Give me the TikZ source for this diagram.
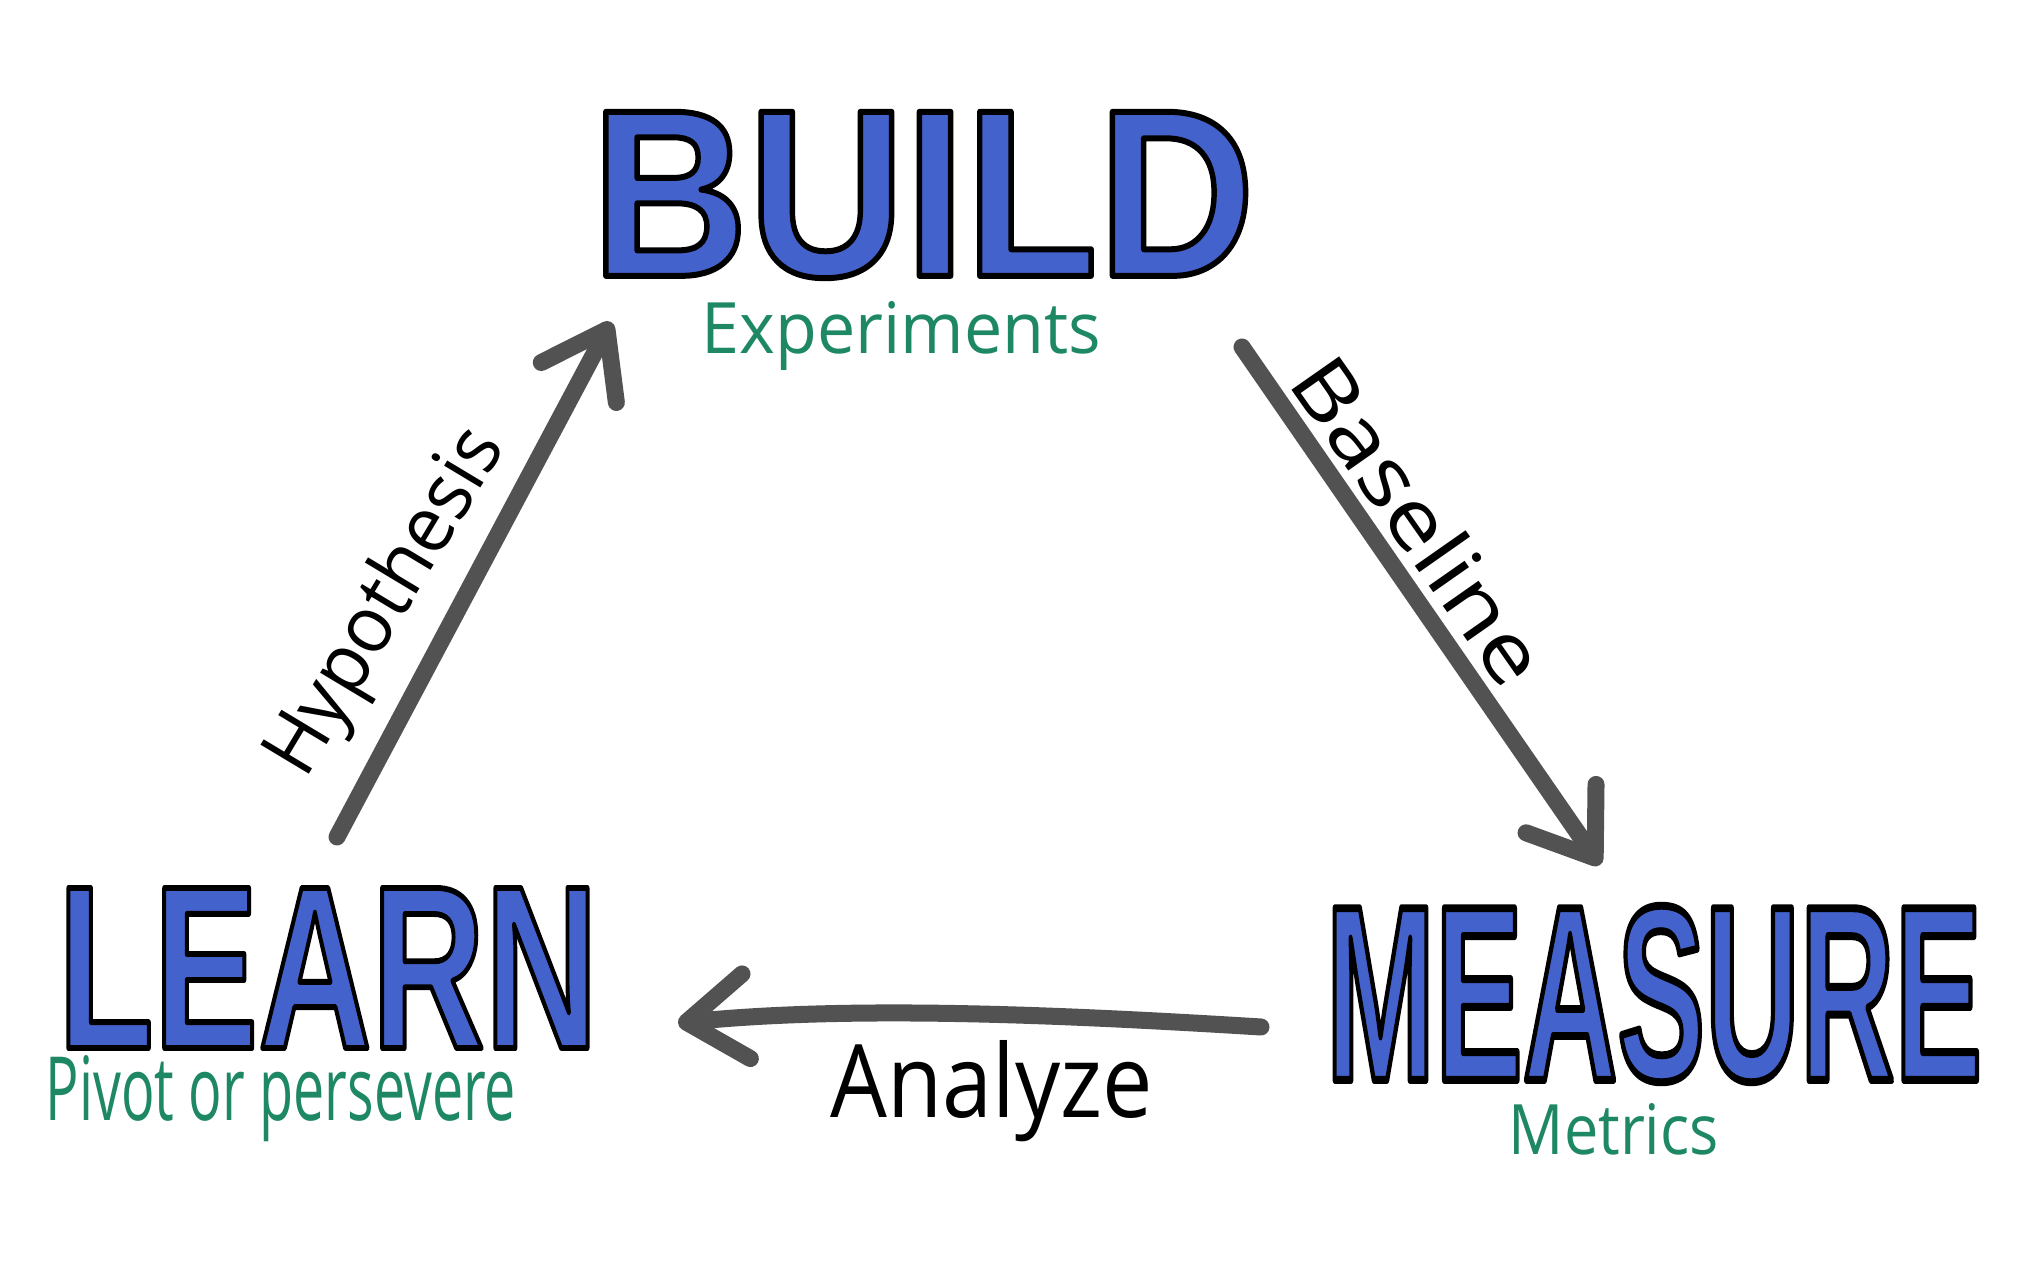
\documentclass[tikz,border=0pt]{standalone}
\usepackage{fontspec}
\setmainfont{Open Sans}
\newfontfamily\bigfont{Liberation Sans}
\usetikzlibrary{arrows.meta}
\definecolor{inkblue}{RGB}{68,98,204}
\definecolor{inkgreen}{RGB}{30,136,100}
\definecolor{inkgray}{RGB}{82,82,82}
\newcommand\strokedtext[2][1.5]{\special{pdf:literal direct 0 0 0 RG #1 w 1 j 2 Tr}#2\special{pdf:literal direct 0 Tr}}
\tikzset{
  bigword/.style={font=\bigfont\bfseries\fontsize{60}{60}\selectfont, text=inkblue, inner sep=0pt},
  subword/.style={font=\fontsize{20}{20}\selectfont, text=inkgreen, inner sep=0pt, anchor=base west},
  edgelabel/.style={font=\fontsize{20}{20}\selectfont, text=black, inner sep=0pt},
  conn/.style={draw=inkgray, line width=0.17cm, line cap=round, line join=round,
    -{Straight Barb[length=0.6cm,width=0.85cm,round]}}
}
\begin{document}
\begin{tikzpicture}[x=0.01cm,y=-0.01cm]
\useasboundingbox[fill=white] (0,0) rectangle (2018,1286);
% main words
\node[bigword] (build) at (923,195) {\resizebox{6.63cm}{1.64cm}{\strokedtext{BUILD}}};
\node[bigword] (learn) at (328,968) {\resizebox{5.4cm}{1.6cm}{\strokedtext{LEARN}}};
\node[bigword] (measure) at (1654,994) {\resizebox{6.56cm}{1.74cm}{\strokedtext[1.9]{MEASURE}}};
% subtitles
\node[subword] (experiments) at (701,354) {\resizebox{3.99cm}{0.52cm}{Experiments}};
\node[subword] (pivot) at (45,1120) {\resizebox{4.7cm}{0.65cm}{Pivot or persevere}};
\node[subword] (metrics) at (1508,1154) {\resizebox{2.1cm}{0.51cm}{Metrics}};
% connector ends
\coordinate (h1) at (337,837);
\coordinate (h2) at (611,322);
\coordinate (b1) at (1242,347);
\coordinate (b2) at (1600,865);
\coordinate (a1) at (1261,1027);
\coordinate (a2) at (678,1023);
% connectors
\draw[conn] (h1) -- (h2);
\draw[conn] (b1) -- (b2);
\draw[conn] (a1) .. controls (1050,1014) and (850,1006) .. (a2);
% connector labels
\node[edgelabel, rotate=59] (hyp) at (388,603) {\resizebox{3.9cm}{0.6cm}{Hypothesis}};
\node[edgelabel, rotate=-55] (base) at (1420,520) {\resizebox{3.78cm}{0.62cm}{Baseline}};
\node[edgelabel, anchor=base west] (analyze) at (830,1117) {\resizebox{3.22cm}{0.77cm}{Analyze}};
\end{tikzpicture}
\end{document}
